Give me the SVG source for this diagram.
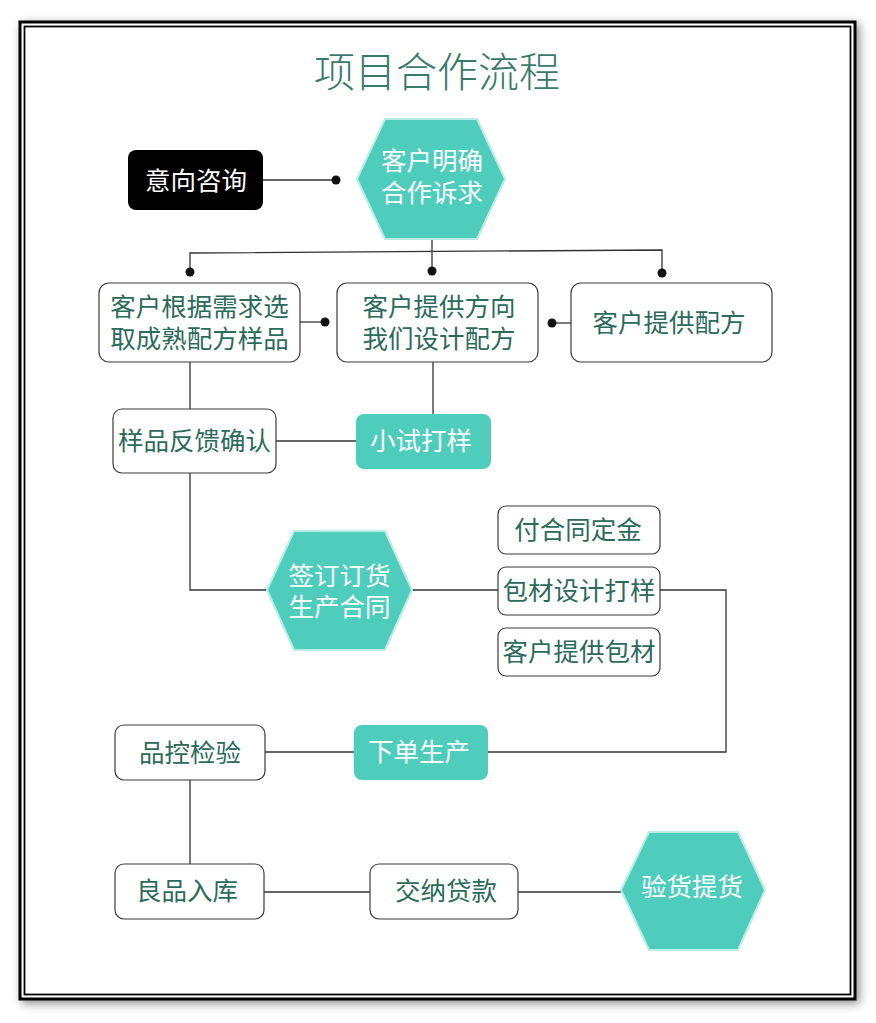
<svg xmlns="http://www.w3.org/2000/svg" width="876" height="1023" viewBox="0 0 876 1023">
<defs>
<filter id="sh" x="-5%" y="-5%" width="110%" height="110%">
<feDropShadow dx="3" dy="3" stdDeviation="5" flood-color="#000" flood-opacity="0.45"/>
</filter>
<style>
.t{font-family:"Noto Sans CJK SC","Noto Sans",sans-serif;text-anchor:middle;}
.dk{fill:#2c6b5b;font-size:25.5px;}
.wt{fill:#ffffff;font-size:25.5px;}
.box{fill:#ffffff;stroke:#3a3a3a;stroke-width:1.2;}
.tl{fill:#4ecdbc;}
.hx{fill:#4ecdbc;stroke:#b9ece4;stroke-width:2;}
.ln{fill:none;stroke:#333;stroke-width:1.3;}
.dot{fill:#111;}
</style>
</defs>
<rect width="876" height="1023" fill="#ffffff"/>
<rect x="20" y="22" width="835" height="977" fill="#ffffff" stroke="#000" stroke-width="3" filter="url(#sh)"/>
<rect x="24.5" y="26.5" width="826" height="968" fill="#ffffff" stroke="#000" stroke-width="1.8"/>
<text class="t" x="437" y="87" font-size="41" font-weight="300" fill="#3a7a6b">项目合作流程</text>

<g id="connectors">
<path class="ln" d="M263 180 H336"/>
<path class="ln" d="M432 239 V271"/>
<path class="ln" d="M190 272 V253 L662 250 V273"/>
<path class="ln" d="M300 322 H325"/>
<path class="ln" d="M552 323 H571"/>
<path class="ln" d="M190 362 V409"/>
<path class="ln" d="M433 362 V414"/>
<path class="ln" d="M276 441 H356"/>
<path class="ln" d="M190 473 V590 H267"/>
<path class="ln" d="M412 590 H498"/>
<path class="ln" d="M660 590 H726 V752 H488"/>
<path class="ln" d="M265 752 H354"/>
<path class="ln" d="M190 780 V864"/>
<path class="ln" d="M264 892 H370"/>
<path class="ln" d="M518 892 H621"/>
<circle class="dot" cx="336" cy="180" r="4.5"/>
<circle class="dot" cx="190" cy="272" r="4.5"/>
<circle class="dot" cx="432" cy="271" r="4.5"/>
<circle class="dot" cx="662" cy="273" r="4.5"/>
<circle class="dot" cx="325" cy="322" r="4.5"/>
<circle class="dot" cx="552" cy="323" r="4.5"/>
</g>

<g id="n1">
<rect x="128" y="150" width="135" height="60" rx="8" fill="#000"/>
<text class="t wt" x="196" y="190">意向咨询</text>
</g>
<g id="n2">
<polygon class="hx" points="357,179 385,119 477,119 505,179 477,239 385,239"/>
<text class="t wt" x="432" y="170">客户明确</text>
<text class="t wt" x="432" y="202">合作诉求</text>
</g>
<g id="n3">
<rect class="box" x="99" y="283" width="201" height="79" rx="10"/>
<text class="t dk" x="199.5" y="316">客户根据需求选</text>
<text class="t dk" x="199.5" y="348">取成熟配方样品</text>
</g>
<g id="n4">
<rect class="box" x="337" y="283" width="201" height="79" rx="10"/>
<text class="t dk" x="439" y="316">客户提供方向</text>
<text class="t dk" x="439" y="348">我们设计配方</text>
</g>
<g id="n5">
<rect class="box" x="571" y="283" width="201" height="79" rx="10"/>
<text class="t dk" x="669" y="332">客户提供配方</text>
</g>
<g id="n6">
<rect class="box" x="113" y="409" width="163" height="64" rx="9"/>
<text class="t dk" x="194.5" y="450">样品反馈确认</text>
</g>
<g id="n7">
<rect class="tl" x="356" y="414" width="135" height="55" rx="8"/>
<text class="t wt" x="421" y="450">小试打样</text>
</g>
<g id="n8">
<polygon class="hx" points="267,590 294,531 385,531 412,590 385,650 294,650"/>
<text class="t wt" x="339.5" y="585">签订订货</text>
<text class="t wt" x="339.5" y="616">生产合同</text>
</g>
<g id="n9">
<rect class="box" x="498" y="506" width="162" height="48" rx="8"/>
<text class="t dk" x="578" y="539">付合同定金</text>
</g>
<g id="n10">
<rect class="box" x="498" y="567" width="162" height="48" rx="8"/>
<text class="t dk" x="579" y="600">包材设计打样</text>
</g>
<g id="n11">
<rect class="box" x="498" y="628" width="162" height="48" rx="8"/>
<text class="t dk" x="579" y="661">客户提供包材</text>
</g>
<g id="n12">
<rect class="tl" x="354" y="725" width="134" height="55" rx="8"/>
<text class="t wt" x="419" y="761">下单生产</text>
</g>
<g id="n13">
<rect class="box" x="115" y="725" width="150" height="55" rx="9"/>
<text class="t dk" x="190" y="762">品控检验</text>
</g>
<g id="n14">
<rect class="box" x="115" y="864" width="149" height="55" rx="9"/>
<text class="t dk" x="187" y="900">良品入库</text>
</g>
<g id="n15">
<rect class="box" x="370" y="864" width="148" height="55" rx="9"/>
<text class="t dk" x="446" y="900">交纳贷款</text>
</g>
<g id="n16">
<polygon class="hx" points="621,890 649,832 738,832 765,890 738,950 649,950"/>
<text class="t wt" x="692" y="896">验货提货</text>
</g>
</svg>
